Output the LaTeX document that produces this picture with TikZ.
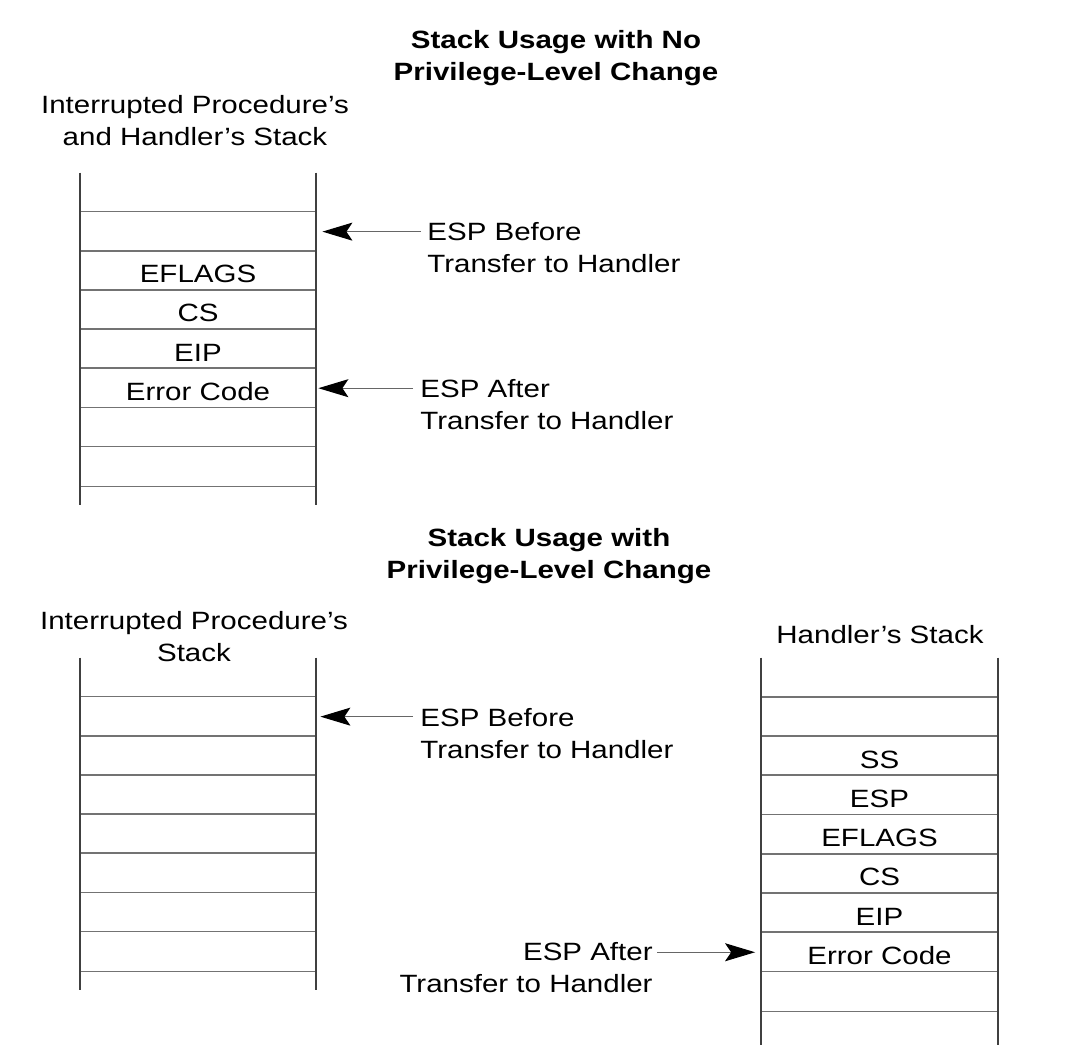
\documentclass[tikz,border=0pt]{standalone}
\usepackage{fontspec}
\setmainfont{Liberation Sans}[FakeStretch=1.18]
\usetikzlibrary{arrows.meta,positioning,calc}

\begin{document}
\begin{tikzpicture}
[x=.5pt,y=-.5pt,
    every node/.style={font=\fontsize{12.5}{16}\selectfont},
    cell/.style={minimum width=118pt,minimum height=19.57pt,inner sep=0pt,
    text height=12pt,text depth=0pt},
    rail/.style={draw=black!75,line width=1pt},
    sep/.style={draw=black!55,line width=.8pt},
    lab/.style={inner sep=0pt},
    ttl/.style={font=\fontsize{12.5}{16}\selectfont\bfseries,align=center},
    ptr/.style={-{Stealth[length=15pt,width=9pt,inset=3pt,color=black]},
    draw=black!60,line width=.6pt}]
\useasboundingbox (0,0) rectangle (1076,1064);
%%%%%%%%%%
%% no privilege-level change
\node (t1) [ttl] at (556,58) {Stack Usage with No\\Privilege-Level Change};
\node (h1) [align=center] at (195,121) {Interrupted Procedure’s\\and Handler’s Stack};
\foreach \i/\txt in {0/{},1/{},2/EFLAGS,3/CS,4/EIP,5/Error Code,6/{},7/{}}
  \node (a\i) [cell] at (198,{192.5+39.14*\i}) {\txt};
\foreach \i in {1,...,7}
  \draw[sep] (a\i.north west) -- (a\i.north east);
\draw[sep] (a7.south west) -- (a7.south east);
\draw[rail] (a0.north west) -- ($(a7.south west)+(0,19)$);
\draw[rail] (a0.north east) -- ($(a7.south east)+(0,19)$);
%% pointers
\node (pa1) [lab,align=left,anchor=west] at (427,248) {ESP Before\\Transfer to Handler};
\node (pa5) [lab,align=left,anchor=west] at (420,405) {ESP After\\Transfer to Handler};
\draw[ptr,shorten <=3pt,shorten >=3pt] (a1.east -| pa1.west) -- (a1.east);
\draw[ptr,shorten <=3.5pt,shorten >=1pt] (a5.east -| pa5.west) -- (a5.east);
%%%%%%%%%%
%% privilege-level change
\node (t2) [ttl] at (549,556) {Stack Usage with\\Privilege-Level Change};
\node (h2) [align=center] at (194,637) {Interrupted Procedure’s\\Stack};
\node (h3) at (880,635) {Handler’s Stack};
\foreach \i in {0,...,7}
  \node (b\i) [cell] at (198,{677.5+39.14*\i}) {};
\foreach \i in {1,...,7}
  \draw[sep] (b\i.north west) -- (b\i.north east);
\draw[sep] (b7.south west) -- (b7.south east);
\draw[rail] (b0.north west) -- ($(b7.south west)+(0,19)$);
\draw[rail] (b0.north east) -- ($(b7.south east)+(0,19)$);
%%
\foreach \i/\txt in {0/{},1/{},2/SS,3/ESP,4/EFLAGS,5/CS,6/EIP,7/Error Code,8/{}}
  \node (c\i) [cell] at (879.5,{677.5+39.25*\i}) {\txt};
\foreach \i in {1,...,8}
  \draw[sep] (c\i.north west) -- (c\i.north east);
\draw[sep] (c8.south west) -- (c8.south east);
\draw[rail] (c0.north west) -- ($(c8.south west)+(0,34)$);
\draw[rail] (c0.north east) -- ($(c8.south east)+(0,34)$);
%% pointers
\node (pb1) [lab,align=left,anchor=west] at (420,734) {ESP Before\\Transfer to Handler};
\node (pc7) [lab,align=right,anchor=east] at (653,968) {ESP After\\Transfer to Handler};
\draw[ptr,shorten <=3.5pt,shorten >=2pt] (b1.east -| pb1.west) -- (b1.east);
\draw[ptr,shorten <=2pt,shorten >=3pt] (c7.west -| pc7.east) -- (c7.west);
\end{tikzpicture}
\end{document}
